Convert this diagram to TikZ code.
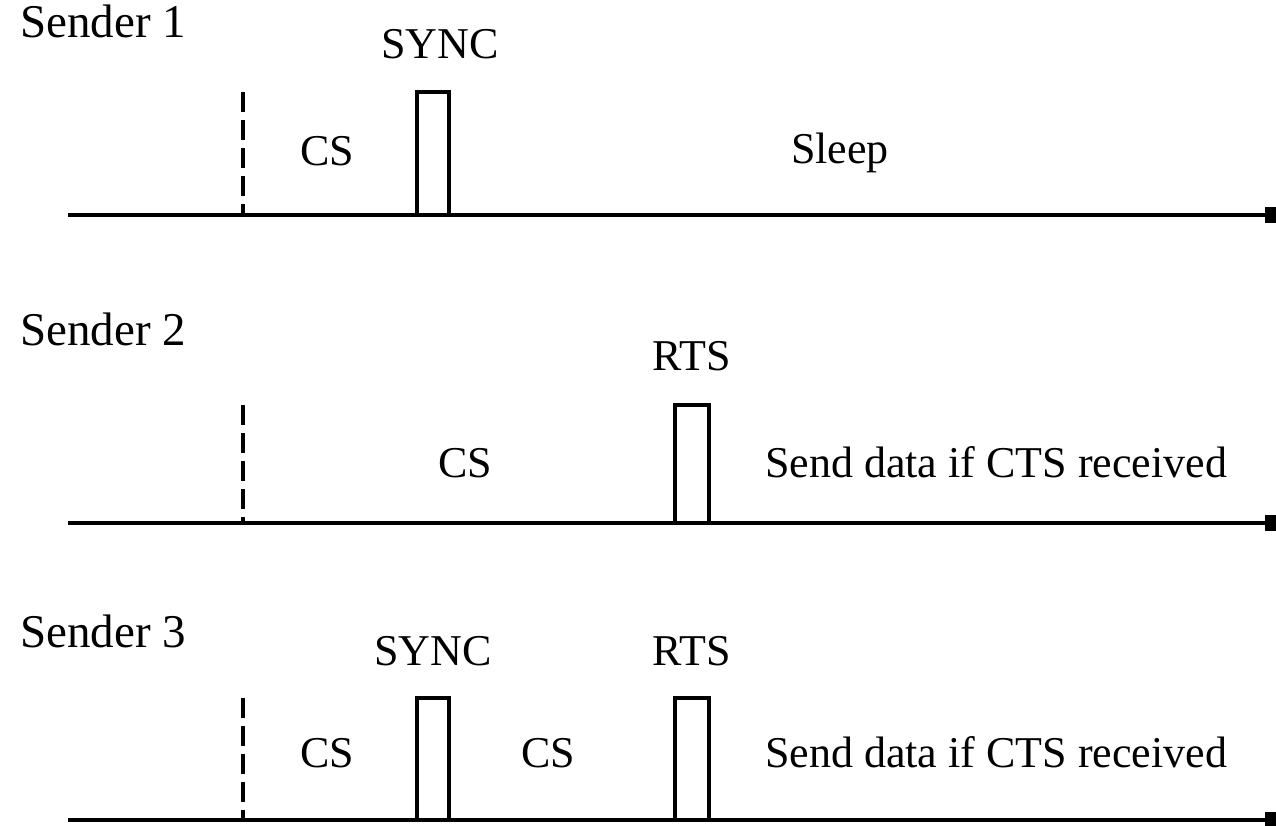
\documentclass[tikz,border=0pt]{standalone}
\usepackage{fontspec}
\setmainfont{Liberation Serif}
\begin{document}
\begin{tikzpicture}[x=1pt,y=-1pt,
  lbl/.style={inner sep=0pt,anchor=base,font=\fontsize{44}{50}\selectfont},
  lblw/.style={lbl,anchor=base west},
  sender/.style={lblw,font=\fontsize{47}{52}\selectfont},
  axis/.style={line width=3.5pt},
  pulse/.style={line width=3.5pt},
  startdash/.style={line width=3.5pt,dash pattern=on 20pt off 8pt},
  endmark/.style={fill=black,minimum size=16pt,inner sep=0pt,draw=none}]
\useasboundingbox (0,0) rectangle (1276,825);
% line y positions: 215, 523, 820
% Sender 1
\node[sender] (s1) at (20,37) {Sender 1};
\coordinate (a1s) at (68,215);
\node[endmark] (a1e) at (1273,215) {};
\draw[axis] (a1s) -- (a1e.center);
\coordinate (d1t) at (243,92);
\coordinate (d1b) at (243,215);
\draw[startdash] (d1t) -- (d1b);
\draw[pulse] (417,215) -- (417,92) -- (449,92) -- (449,215);
\node[lbl] (sync1) at (440,58) {SYNC};
\node[lbl] (cs1) at (327,165) {CS};
\node[lbl] (sleep) at (840,163) {Sleep};
% Sender 2
\node[sender] (s2) at (20,345) {Sender 2};
\coordinate (a2s) at (68,523);
\node[endmark] (a2e) at (1273,523) {};
\draw[axis] (a2s) -- (a2e.center);
\coordinate (d2t) at (243,405);
\coordinate (d2b) at (243,523);
\draw[startdash] (d2t) -- (d2b);
\draw[pulse] (675,523) -- (675,405) -- (709,405) -- (709,523);
\node[lbl] (rts2) at (692,370) {RTS};
\node[lbl] (cs2) at (465,477) {CS};
\node[lblw] (send2) at (765,477) {Send data if CTS received};
% Sender 3
\node[sender] (s3) at (20,647) {Sender 3};
\coordinate (a3s) at (68,820);
\node[endmark] (a3e) at (1273,820) {};
\draw[axis] (a3s) -- (a3e.center);
\coordinate (d3t) at (243,698);
\coordinate (d3b) at (243,820);
\draw[startdash] (d3t) -- (d3b);
\draw[pulse] (417,820) -- (417,698) -- (449,698) -- (449,820);
\draw[pulse] (675,820) -- (675,698) -- (709,698) -- (709,820);
\node[lbl] (sync3) at (433,665) {SYNC};
\node[lbl] (rts3) at (692,665) {RTS};
\node[lbl] (cs3a) at (327,767) {CS};
\node[lbl] (cs3b) at (548,767) {CS};
\node[lblw] (send3) at (765,767) {Send data if CTS received};
\end{tikzpicture}
\end{document}
